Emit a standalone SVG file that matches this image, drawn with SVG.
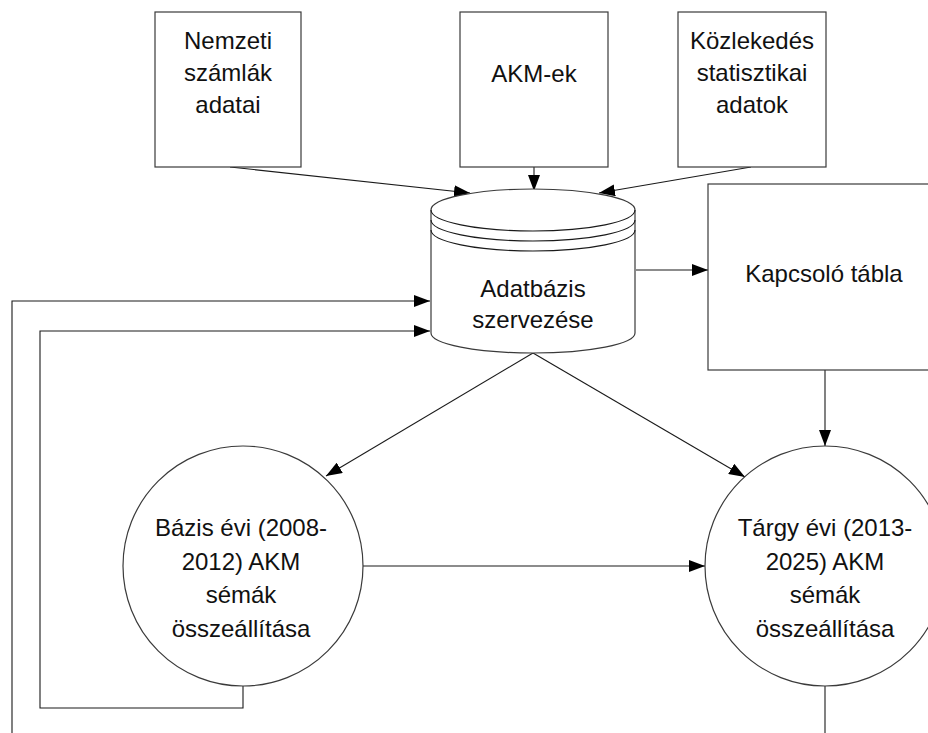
<svg xmlns="http://www.w3.org/2000/svg" width="928" height="733" viewBox="0 0 928 733">
  <style>
    .shape { fill: #ffffff; stroke: #3a3a3a; stroke-width: 1.2; }
    .edge { fill: none; stroke: #1a1a1a; stroke-width: 1.1; }
    text { font-family: "Liberation Sans", Arial, sans-serif; font-size: 24px; fill: #111111; text-anchor: middle; }
  </style>
  <defs>
    <marker id="arrow" viewBox="0 0 16 12" refX="16" refY="6" markerWidth="16" markerHeight="12" markerUnits="userSpaceOnUse" orient="auto">
      <path d="M0,0 L16,6 L0,12 Z" fill="#000000"/>
    </marker>
  </defs>
  <rect width="928" height="733" fill="#ffffff"/>

  <!-- connectors -->
  <g id="connectors">
    <path class="edge" d="M230,167 L470,193" marker-end="url(#arrow)"/>
    <path class="edge" d="M534,167 L534,191" marker-end="url(#arrow)"/>
    <path class="edge" d="M751,167 L599,193" marker-end="url(#arrow)"/>
    <path class="edge" d="M636,270 L708,270" marker-end="url(#arrow)"/>
    <path class="edge" d="M825,370 L825,446" marker-end="url(#arrow)"/>
    <path class="edge" d="M533,353 L326,476" marker-end="url(#arrow)"/>
    <path class="edge" d="M533,353 L745,477" marker-end="url(#arrow)"/>
    <path class="edge" d="M363,566 L705,566" marker-end="url(#arrow)"/>
    <path class="edge" d="M243,686 L243,708 L40,708 L40,331 L430,331" marker-end="url(#arrow)"/>
    <path class="edge" d="M12,733 L12,301 L430,301" marker-end="url(#arrow)"/>
    <path class="edge" d="M825,686 L825,733"/>
  </g>

  <g id="nemzeti">
    <rect class="shape" x="155" y="12" width="146" height="155"/>
    <text x="228" y="49">Nemzeti</text>
    <text x="228" y="81">számlák</text>
    <text x="228" y="113">adatai</text>
  </g>

  <g id="akm">
    <rect class="shape" x="460" y="12" width="148" height="155"/>
    <text x="534" y="82">AKM-ek</text>
  </g>

  <g id="kozlekedes">
    <rect class="shape" x="678" y="12" width="148" height="155"/>
    <text x="752" y="49">Közlekedés</text>
    <text x="752" y="81">statisztikai</text>
    <text x="752" y="113">adatok</text>
  </g>

  <g id="kapcsolo">
    <rect class="shape" x="708" y="184" width="240" height="186"/>
    <text x="824" y="282">Kapcsoló tábla</text>
  </g>

  <!-- database cylinder -->
  <g id="adatbazis">
    <path class="shape" d="M431,210 L431,333 A102,20 0 0 0 635,333 L635,210 A102,21 0 0 0 431,210 Z"/>
    <path class="edge" d="M431,210 A102,21 0 0 0 635,210"/>
    <path class="edge" d="M431,220 A102,21 0 0 0 635,220"/>
    <path class="edge" d="M431,230 A102,21 0 0 0 635,230"/>
    <text x="533" y="297">Adatbázis</text>
    <text x="533" y="328">szervezése</text>
  </g>

  <g id="bazis">
    <circle class="shape" cx="243" cy="566" r="120"/>
    <text x="241" y="536">Bázis évi (2008-</text>
    <text x="241" y="570">2012) AKM</text>
    <text x="241" y="603">sémák</text>
    <text x="241" y="637">összeállítása</text>
  </g>

  <g id="targy">
    <circle class="shape" cx="825" cy="566" r="120"/>
    <text x="825" y="536">Tárgy évi (2013-</text>
    <text x="825" y="570">2025) AKM</text>
    <text x="825" y="603">sémák</text>
    <text x="825" y="637">összeállítása</text>
  </g>
</svg>
